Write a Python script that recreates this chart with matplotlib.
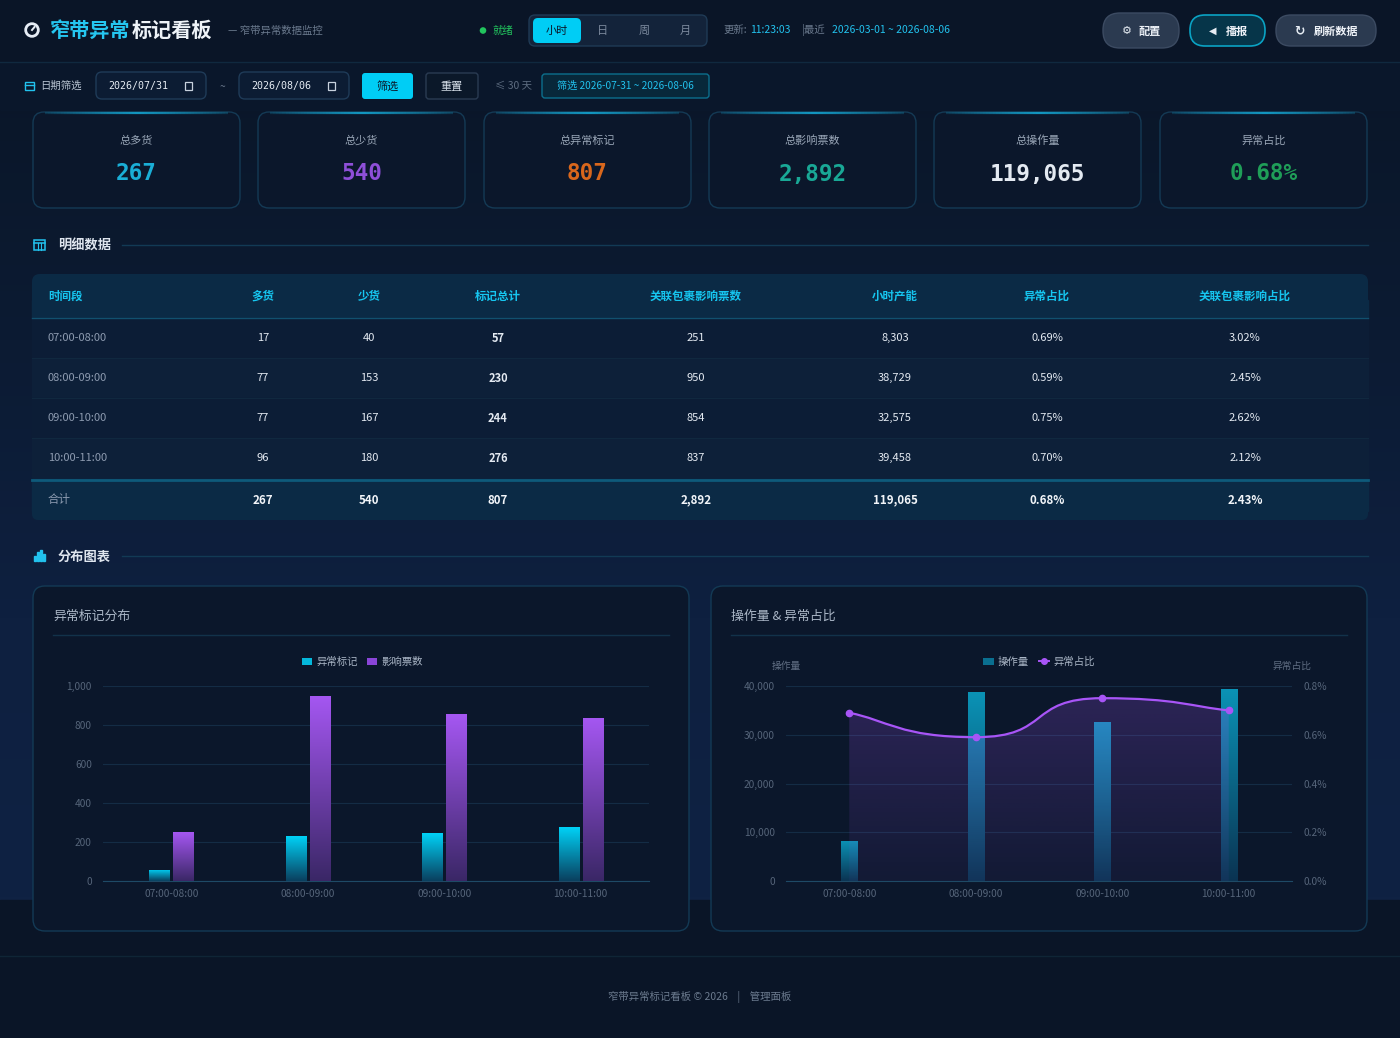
import numpy as np
import matplotlib
matplotlib.use("Agg")
import matplotlib.pyplot as plt
from matplotlib.patches import FancyBboxPatch, Rectangle, Circle, PathPatch
from matplotlib.path import Path
from matplotlib.colors import LinearSegmentedColormap, to_rgba
from matplotlib.lines import Line2D
from matplotlib.ticker import FuncFormatter

plt.rcParams['font.family'] = ['Noto Sans CJK SC', 'DejaVu Sans']

# ---------------- DATA ----------------
periods = ['07:00-08:00', '08:00-09:00', '09:00-10:00', '10:00-11:00']
over_goods = [17, 77, 77, 96]
short_goods = [40, 153, 167, 180]
mark_total = [57, 230, 244, 276]
impact_tickets = [251, 950, 854, 837]
hour_capacity = [8303, 38729, 32575, 39458]
abnormal_ratio = [0.69, 0.59, 0.75, 0.70]          # %
impact_ratio = [3.02, 2.45, 2.62, 2.12]            # %
total_row = ['合计', '267', '540', '807', '2,892', '119,065', '0.68%', '2.43%']
table_headers = ['时间段', '多货', '少货', '标记总计', '关联包裹影响票数', '小时产能', '异常占比', '关联包裹影响占比']
kpi_labels = ['总多货', '总少货', '总异常标记', '总影响票数', '总操作量', '异常占比']
kpi_values = ['267', '540', '807', '2,892', '119,065', '0.68%']
kpi_colors = ['#1aaed6', '#8e4fd8', '#d9671c', '#19a896', '#e4eaf2', '#1f9e58']
bar1_ticks = [0, 200, 400, 600, 800, 1000]
bar2_ticks = [0, 10000, 20000, 30000, 40000]
ratio_ticks = [0.0, 0.2, 0.4, 0.6, 0.8]

W, H = 1400, 1038
fig = plt.figure(figsize=(W / 100, H / 100), dpi=100)
bg = fig.add_axes([0, 0, 1, 1])
bg.set_xlim(0, W)
bg.set_ylim(H, 0)
bg.axis('off')

# ---------------- background ----------------
grad = np.linspace(0, 1, 256).reshape(-1, 1)
cm_bg = LinearSegmentedColormap.from_list('bg', ['#0a1628', '#0c1b33', '#0e2040', '#0f2243'])
bg.imshow(grad, extent=[0, W, 900, 62], cmap=cm_bg, aspect='auto', zorder=0)
bg.add_patch(Rectangle((0, 0), W, 62, color='#0a1527', zorder=0.5))
bg.add_patch(Rectangle((0, 900), W, H - 900, color='#0a1527', zorder=0.5))
bg.plot([0, W], [61.5, 61.5], color='#10293f', lw=1, zorder=1)
bg.plot([0, W], [956, 956], color='#0f2536', lw=1, zorder=1)
bg.add_patch(Rectangle((0, 62), W, 48, color='#0a172b', zorder=0.6))


def rbox(x, y, w, h, r, fc, ec='none', lw=1, z=2, alpha=1):
    p = FancyBboxPatch((x + r, y + r), w - 2 * r, h - 2 * r,
                       boxstyle=f"round,pad={r}", fc=fc, ec=ec, lw=lw, zorder=z, alpha=alpha)
    bg.add_patch(p)
    return p


# ---------------- header ----------------
bg.add_patch(Circle((32, 30), 7, color='#e8eef6', zorder=3))
bg.add_patch(Circle((32, 30), 4.2, color='#0a1527', zorder=3.1))
bg.plot([32, 34.5], [30, 27], color='#e8eef6', lw=1.4, zorder=3.2)
bg.text(50, 30, '窄带异常', color='#25c6f0', fontsize=14.5, fontweight='bold', va='center', ha='left', zorder=3)
bg.text(132, 30, '标记看板', color='#eef3f8', fontsize=14.5, fontweight='bold', va='center', ha='left', zorder=3)
bg.text(228, 31, '— 窄带异常数据监控', color='#6b7a8e', fontsize=7.5, va='center', ha='left', zorder=3)

bg.add_patch(Circle((483, 30.5), 2.6, color='#22c55e', zorder=3))
bg.text(492, 30.5, '就绪', color='#22c55e', fontsize=7.5, va='center', ha='left', zorder=3)

rbox(529, 15, 178, 31, 6, '#13233a', '#1f3a55', 1, z=2)
rbox(533, 18, 48, 25, 5, '#00cdf5', z=3)
bg.text(557, 31, '小时', color='#0a1527', fontsize=8, va='center', ha='center', zorder=4)
for lbl, xx in zip(['日', '周', '月'], [603, 644, 685]):
    bg.text(xx, 31, lbl, color='#7c8a9e', fontsize=8, va='center', ha='center', zorder=4)

bg.text(724, 30, '更新:', color='#6b7a8e', fontsize=7.5, va='center', ha='left', zorder=3)
bg.text(750, 30, '11:23:03', color='#22c2ee', fontsize=7.5, va='center', ha='left', zorder=3)
bg.text(802, 30, '|最近', color='#6b7a8e', fontsize=7.5, va='center', ha='left', zorder=3)
bg.text(832, 30, '2026-03-01 ~ 2026-08-06', color='#22c2ee', fontsize=7.5, va='center', ha='left', zorder=3)

rbox(1103, 13, 76, 35, 17, '#2b3a50', '#3c4b62', 1)
bg.text(1127, 31, '⚙', color='#e6ecf3', fontsize=8, va='center', ha='center', zorder=4,
        family=['DejaVu Sans'])
bg.text(1150, 31, '配置', color='#eef2f8', fontsize=8, fontweight='bold', va='center', ha='center', zorder=4)
rbox(1190, 15, 75, 31, 15, '#063549', '#0aa3c4', 1.2)
bg.text(1213, 31, '◀', color='#e6ecf3', fontsize=7, va='center', ha='center', zorder=4,
        family=['DejaVu Sans'])
bg.text(1237, 31, '播报', color='#eef2f8', fontsize=8, fontweight='bold', va='center', ha='center', zorder=4)
rbox(1276, 15, 100, 31, 15, '#2b3a50', '#3c4b62', 1)
bg.text(1299, 31, '↻', color='#e6ecf3', fontsize=9, va='center', ha='center', zorder=4,
        family=['DejaVu Sans'], fontweight='bold')
bg.text(1336, 31, '刷新数据', color='#eef2f8', fontsize=8, fontweight='bold', va='center', ha='center', zorder=4)

# ---------------- filter bar ----------------
bg.add_patch(Rectangle((25, 82), 9, 8, fill=False, ec='#22c2ee', lw=1, zorder=3))
bg.plot([25, 34], [84.5, 84.5], color='#22c2ee', lw=1, zorder=3)
bg.text(40, 86, '日期筛选', color='#b8c4d2', fontsize=7.5, va='center', ha='left', zorder=3)
for bx, dt in [(96, '2026/07/31'), (239, '2026/08/06')]:
    rbox(bx, 72, 110, 27, 6, '#0c1c33', '#1f3b58', 1)
    bg.text(bx + 12, 86, dt, color='#e6ecf3', fontsize=7.2, va='center', ha='left', zorder=4,
            family=['DejaVu Sans Mono'])
    bg.add_patch(Rectangle((bx + 89, 82), 7, 8, fill=False, ec='#c8d2de', lw=0.9, zorder=4))
bg.text(222, 87, '~', color='#6b7a8e', fontsize=7.5, va='center', ha='center', zorder=3)
rbox(362, 73, 51, 26, 3, '#00cdf5')
bg.text(387.5, 86.5, '筛选', color='#0a1527', fontsize=8, va='center', ha='center', zorder=4)
rbox(426, 73, 52, 26, 3, '#0b1829', '#2a3b52', 1)
bg.text(452, 86.5, '重置', color='#d8e0ea', fontsize=8, va='center', ha='center', zorder=4)
bg.text(495, 86, '≤ 30 天', color='#5d6c80', fontsize=7.5, va='center', ha='left', zorder=3)
rbox(542, 74, 167, 24, 3, '#08283a', '#0c6f8d', 1)
bg.text(625.5, 86, '筛选 2026-07-31 ~ 2026-08-06', color='#22c2ee', fontsize=7.3, va='center',
        ha='center', zorder=4)

# ---------------- KPI cards ----------------
card_x = [33, 258, 484, 709, 934, 1160]
for cx, lab, val, col in zip(card_x, kpi_labels, kpi_values, kpi_colors):
    rbox(cx, 112, 207, 96, 11, '#0b172b', '#143a55', 1, z=2)
    xs = np.linspace(cx + 12, cx + 195, 60)
    for i in range(len(xs) - 1):
        t = (xs[i] - cx) / 207
        a = max(0.0, 1 - abs(t - 0.5) * 2) ** 0.7
        bg.plot(xs[i:i + 2], [112.6, 112.6], color='#14a4d0', alpha=a * 0.9, lw=1.6,
                solid_capstyle='butt', zorder=3)
    bg.text(cx + 103.5, 141, lab, color='#9aa7b8', fontsize=8, va='center', ha='center', zorder=4)
    bg.text(cx + 103.5, 174, val, color=col, fontsize=16.3, fontweight='bold', va='center', ha='center',
            zorder=4, family=['DejaVu Sans Mono'])

# ---------------- section headers ----------------
def section(y, title, icon):
    if icon == 'table':
        bg.add_patch(Rectangle((34, y - 5), 11, 10, fill=False, ec='#22c2ee', lw=1.1, zorder=3))
        bg.plot([34, 45], [y - 2, y - 2], color='#22c2ee', lw=1.1, zorder=3)
        bg.plot([37.7, 37.7], [y - 2, y + 5], color='#22c2ee', lw=0.8, zorder=3)
        bg.plot([41.3, 41.3], [y - 2, y + 5], color='#22c2ee', lw=0.8, zorder=3)
    else:
        for k, hh in enumerate([5, 9, 11, 7]):
            bg.add_patch(Rectangle((33.5 + k * 3, y + 5 - hh), 2, hh, color='#22c2ee', zorder=3))
    bg.text(58, y + 1, title, color='#dfe6ef', fontsize=9.5, fontweight='bold', va='center', ha='left', zorder=3)
    bg.plot([122, 1368], [y, y], color='#123a55', lw=1, zorder=2)

section(245, '明细数据', 'table')
section(556, '分布图表', 'bars')

# ---------------- table ----------------
tx0, tx1 = 32, 1368
rbox(tx0, 274, tx1 - tx0, 246, 8, '#0c1e38', z=2)
rbox(tx0, 274, tx1 - tx0, 44, 8, '#0b2a45', z=2.1)
bg.add_patch(Rectangle((tx0, 300), tx1 - tx0, 18, color='#0b2a45', zorder=2.1))
bg.plot([tx0, tx1], [317.5, 317.5], color='#11506e', lw=1, zorder=3)
row_fc = ['#0c1d36', '#0d2039', '#0c1d36', '#0d2039']
for i in range(4):
    y0 = 318 + i * 40
    bg.add_patch(Rectangle((tx0, y0), tx1 - tx0, 40, color=row_fc[i], zorder=2.2))
    if i > 0:
        bg.plot([tx0, tx1], [y0, y0], color='#10283f', lw=0.8, zorder=3)
bg.add_patch(Rectangle((tx0, 479), tx1 - tx0, 32, color='#0b2a45', zorder=2.2))
rbox(tx0, 479, tx1 - tx0, 41, 6, '#0b2a45', z=2.15)
bg.plot([tx0, tx1], [479.5, 479.5], color='#0e5a7a', lw=2, zorder=3)

col_x = [48, 263, 369, 498, 696, 895, 1047, 1245]
for j, (hd, cxp) in enumerate(zip(table_headers, col_x)):
    bg.text(cxp, 296, hd, color='#16c6f0', fontsize=8.3, fontweight='bold', va='center',
            ha='left' if j == 0 else 'center', zorder=4)
for i in range(4):
    y = 338 + i * 40
    cells = [periods[i], f'{over_goods[i]}', f'{short_goods[i]}', f'{mark_total[i]}',
             f'{impact_tickets[i]:,}', f'{hour_capacity[i]:,}', f'{abnormal_ratio[i]:.2f}%',
             f'{impact_ratio[i]:.2f}%']
    for j, (c, cxp) in enumerate(zip(cells, col_x)):
        color = '#8d9bb0' if j == 0 else '#e4eaf2'
        bg.text(cxp, y, c, color=color, fontsize=8, va='center', ha='left' if j == 0 else 'center',
                zorder=4, fontweight='bold' if j == 3 else 'normal')
for j, (c, cxp) in enumerate(zip(total_row, col_x)):
    bg.text(cxp, 500, c, color='#8d9bb0' if j == 0 else '#f2f5f9', fontsize=8.3, va='center',
            ha='left' if j == 0 else 'center', zorder=4, fontweight='normal' if j == 0 else 'bold')

# ---------------- chart cards ----------------
for cx, title in [(33, '异常标记分布'), (711, '操作量 & 异常占比')]:
    rbox(cx, 586, 656, 345, 12, '#0b172b', '#133a55', 1, z=2)
    bg.text(cx + 20, 616, title, color='#aab6c6', fontsize=9.3, va='center', ha='left', zorder=3)
    bg.plot([cx + 20, cx + 636], [634.5, 634.5], color='#12324a', lw=1, zorder=3)

bg.text(786, 666, '操作量', color='#5f6d82', fontsize=7, va='center', ha='center', zorder=3)
bg.text(1292, 666, '异常占比', color='#5f6d82', fontsize=7, va='center', ha='center', zorder=3)

# footer
bg.text(700, 997, '窄带异常标记看板 © 2026    |    管理面板', color='#6b7a8e', fontsize=7.5,
        va='center', ha='center', zorder=3)


def fig_rect(x0, x1, y0, y1):
    return [x0 / W, 1 - y1 / H, (x1 - x0) / W, (y1 - y0) / H]


def style_axis(ax):
    ax.set_facecolor('none')
    for s in ['top', 'right', 'left']:
        ax.spines[s].set_visible(False)
    ax.spines['bottom'].set_color('#1e4a66')
    ax.tick_params(axis='both', colors='#56657a', labelsize=7.3, length=0)
    ax.tick_params(axis='y', pad=8)
    ax.tick_params(axis='x', pad=6)
    ax.grid(axis='y', color='#142c45', lw=0.8)
    ax.set_axisbelow(True)


def grad_bar(ax, x, h, w, top, bottom, z=3, alpha_bottom=1.0):
    b = ax.bar(x, h, w, color='none', zorder=z)[0]
    c0 = to_rgba(bottom, alpha_bottom)
    c1 = to_rgba(top, 1)
    cmap = LinearSegmentedColormap.from_list('g', [c0, c1])
    im = ax.imshow(np.linspace(0, 1, 256).reshape(-1, 1), extent=[x - w / 2, x + w / 2, 0, h],
                   origin='lower', aspect='auto', cmap=cmap, zorder=z)
    im.set_clip_path(b)


# ---------------- chart 1 ----------------
ax1 = fig.add_axes(fig_rect(103, 649, 686, 881))
style_axis(ax1)
xi = np.arange(len(periods))
bw = 0.15
for k in range(len(periods)):
    grad_bar(ax1, xi[k] - 0.088, mark_total[k], bw, '#00d2f7', '#0a3f5e')
    grad_bar(ax1, xi[k] + 0.088, impact_tickets[k], bw, '#a557f2', '#3a2766')
ax1.set_xlim(-0.5, len(periods) - 0.5)
ax1.set_ylim(0, 1000)
ax1.set_yticks(bar1_ticks)
ax1.yaxis.set_major_formatter(FuncFormatter(lambda v, p: f'{int(v):,}'))
ax1.set_xticks(xi)
ax1.set_xticklabels(periods)
h1 = [Rectangle((0, 0), 1, 1, fc='#04b8dc'), Rectangle((0, 0), 1, 1, fc='#8a45d8')]
ax1.legend(h1, ['异常标记', '影响票数'], loc='lower center', bbox_to_anchor=(0.475, 1.05),
           ncol=2, frameon=False, fontsize=7.5, handlelength=1.0, handleheight=0.7,
           columnspacing=0.9, handletextpad=0.4, labelcolor='#aab6c6')

# ---------------- chart 2 ----------------
ax2 = fig.add_axes(fig_rect(786, 1292, 686, 881))
style_axis(ax2)
bw2 = 0.13
for k in range(len(periods)):
    grad_bar(ax2, xi[k], hour_capacity[k], bw2, '#0a93b6', '#0b3352', z=2)
ax2.set_xlim(-0.5, len(periods) - 0.5)
ax2.set_ylim(0, 40000)
ax2.set_yticks(bar2_ticks)
ax2.yaxis.set_major_formatter(FuncFormatter(lambda v, p: f'{int(v):,}'))
ax2.set_xticks(xi)
ax2.set_xticklabels(periods)

ax3 = ax2.twinx()
ax3.set_facecolor('none')
for s in ax3.spines.values():
    s.set_visible(False)
ax3.set_ylim(0, 0.8)
ax3.set_yticks(ratio_ticks)
ax3.yaxis.set_major_formatter(FuncFormatter(lambda v, p: f'{v:.1f}%'))
ax3.tick_params(axis='y', colors='#56657a', labelsize=7.3, length=0, pad=8)
ax3.set_xlim(-0.5, len(periods) - 0.5)

# smooth curve through the data points (bezier segments, no overshoot)
pts = np.column_stack([xi.astype(float), np.array(abnormal_ratio)])
n = len(pts)
tang = np.zeros_like(pts)
for i in range(n):
    p_prev = pts[i - 1] if i > 0 else pts[i]
    p_next = pts[i + 1] if i < n - 1 else pts[i]
    v = p_next - p_prev
    if 0 < i < n - 1 and (pts[i, 1] - p_prev[1]) * (p_next[1] - pts[i, 1]) <= 0:
        v[1] = 0.0
    tang[i] = v
sm = 0.3
verts = [tuple(pts[0])]
codes = [Path.MOVETO]
for i in range(n - 1):
    p1, p2 = pts[i], pts[i + 1]
    c1 = p1 + tang[i] * sm
    c2 = p2 - tang[i + 1] * sm
    lo, hi = min(p1[1], p2[1]), max(p1[1], p2[1])
    c1[1] = np.clip(c1[1], lo, hi)
    c2[1] = np.clip(c2[1], lo, hi)
    verts += [tuple(c1), tuple(c2), tuple(p2)]
    codes += [Path.CURVE4] * 3
line_path = Path(verts, codes)
fill_verts = verts + [(pts[-1, 0], 0), (pts[0, 0], 0), verts[0]]
fill_codes = codes + [Path.LINETO, Path.LINETO, Path.CLOSEPOLY]
fill_patch = PathPatch(Path(fill_verts, fill_codes), fc='none', ec='none', zorder=4)
ax3.add_patch(fill_patch)
cm_fill = LinearSegmentedColormap.from_list('f', [to_rgba('#a855f7', 0.05), to_rgba('#a855f7', 0.22)])
imf = ax3.imshow(np.linspace(0, 1, 256).reshape(-1, 1), extent=[pts[0, 0], pts[-1, 0], 0, 0.8],
                 origin='lower', aspect='auto', cmap=cm_fill, zorder=4)
imf.set_clip_path(fill_patch)
ax3.add_patch(PathPatch(line_path, fc='none', ec='#a855f7', lw=1.6, zorder=5))
ax3.plot(xi, abnormal_ratio, 'o', color='#a855f7', ms=4.5, zorder=6)
ax3.set_xlim(-0.5, len(periods) - 0.5)
ax3.set_ylim(0, 0.8)

h2 = [Rectangle((0, 0), 1, 1, fc='#0a6f90'),
      Line2D([], [], color='#a855f7', marker='o', ms=4, lw=1.4)]
ax3.legend(h2, ['操作量', '异常占比'], loc='lower center', bbox_to_anchor=(0.5, 1.05), ncol=2,
           frameon=False, fontsize=7.5, handlelength=1.0, handleheight=0.7, columnspacing=0.9,
           handletextpad=0.4, labelcolor='#aab6c6')

fig.savefig('out.png', dpi=100, facecolor='#0a1527')
